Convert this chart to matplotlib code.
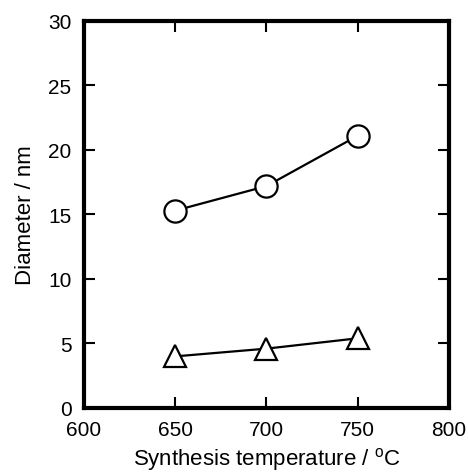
import matplotlib
matplotlib.use('Agg')
import matplotlib.pyplot as plt

plt.rcParams['font.family'] = ['Liberation Sans', 'DejaVu Sans']
plt.rcParams['mathtext.fontset'] = 'custom'
plt.rcParams['mathtext.rm'] = 'Liberation Sans'

temps = [650, 700, 750]
diam_circle = [15.3, 17.2, 21.1]
diam_triangle = [4.0, 4.6, 5.4]

fig = plt.figure(figsize=(4.68, 4.77), dpi=100)
ax = fig.add_axes([0.1795, 0.1426, 0.7795, 0.8113])

ax.plot(temps, diam_circle, '-o', color='black', lw=1.6, ms=16,
        mfc='white', mec='black', mew=1.6)
ax.plot(temps, diam_triangle, '-^', color='black', lw=1.6, ms=16,
        mfc='white', mec='black', mew=1.6)

ax.set_xlim(600, 800)
ax.set_ylim(0, 30)
ax.set_xticks([600, 650, 700, 750, 800])
ax.set_yticks([0, 5, 10, 15, 20, 25, 30])

for s in ax.spines.values():
    s.set_linewidth(3)
ax.tick_params(direction='in', length=8, width=1.5, top=True, right=True,
               labelsize=15, pad=9)

ax.set_xlabel('Synthesis temperature / $^{\\mathrm{o}}$C', fontsize=16, labelpad=4)
ax.set_ylabel('Diameter / nm', fontsize=16, labelpad=9)

fig.savefig('out.png', dpi=100)
